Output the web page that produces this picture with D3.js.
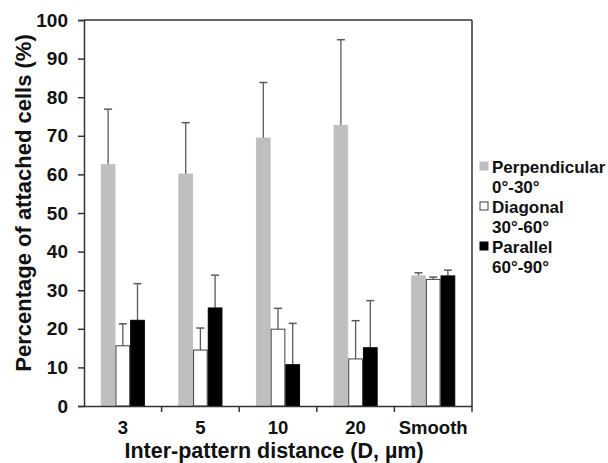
<!DOCTYPE html>
<html>
<head>
<meta charset="utf-8">
<script src="https://cdn.jsdelivr.net/npm/d3@7"></script>
<style>
  body { margin: 0; background: #fff; }
  svg text { font-family: "Liberation Sans", Arial, sans-serif; font-weight: bold; fill: #111; }
</style>
</head>
<body>
<div id="chart"></div>
<script>
// categories and series
var categories = ["3", "5", "10", "20", "Smooth"];
var seriesNames = ["Perpendicular", "Diagonal", "Parallel"];
var seriesSub = ["0°-30°", "30°-60°", "60°-90°"];
var perpendicular = [62.5, 60.1, 69.4, 72.7, 33.7];
var perpendicularErr = [14.4, 13.3, 14.4, 22.2, 0.8];
var diagonal = [15.6, 14.5, 19.9, 12.2, 32.8];
var diagonalErr = [5.7, 5.7, 5.4, 9.9, 0.6];
var parallel = [22.2, 25.4, 10.7, 15.1, 33.7];
var parallelErr = [9.5, 8.5, 10.7, 12.2, 1.5];
var yTicks = [0, 10, 20, 30, 40, 50, 60, 70, 80, 90, 100];

var values = [perpendicular, diagonal, parallel];
var errors = [perpendicularErr, diagonalErr, parallelErr];
var fills = ["#bfbfbf", "#ffffff", "#000000"];
var strokes = ["#bfbfbf", "#404040", "#000000"];

var W = 608, H = 463;
var margin = { top: 20, right: 136, bottom: 57, left: 84 };
var width = W - margin.left - margin.right,
    height = H - margin.top - margin.bottom;

var svg = d3.select("#chart").append("svg")
    .attr("width", W)
    .attr("height", H)
  .append("g")
    .attr("transform", "translate(" + margin.left + "," + margin.top + ")");

var x = d3.scaleBand().domain(categories).range([0, width]);
var y = d3.scaleLinear().domain([0, 100]).range([height, 0]);
var barW = 14.7;

// build flat list of bars
var bars = [];
categories.forEach(function (c, i) {
    for (var s = 0; s < 3; s++) {
        bars.push({ cat: c, s: s, v: values[s][i], e: errors[s][i] });
    }
});
function bx(d) { return x(d.cat) + x.bandwidth() / 2 - 1.5 * barW + d.s * barW; }

// error bars (upper only)
var eg = svg.append("g");
eg.selectAll("line.err")
    .data(bars).enter().append("line")
    .attr("x1", function (d) { return bx(d) + barW / 2; })
    .attr("x2", function (d) { return bx(d) + barW / 2; })
    .attr("y1", function (d) { return y(d.v); })
    .attr("y2", function (d) { return y(d.v + d.e); })
    .style("stroke", "#5a5a5a").style("stroke-width", 1.3);
eg.selectAll("line.cap")
    .data(bars).enter().append("line")
    .attr("x1", function (d) { return bx(d) + barW / 2 - 4; })
    .attr("x2", function (d) { return bx(d) + barW / 2 + 4; })
    .attr("y1", function (d) { return y(d.v + d.e); })
    .attr("y2", function (d) { return y(d.v + d.e); })
    .style("stroke", "#5a5a5a").style("stroke-width", 1.5);

svg.selectAll("rect.bar")
    .data(bars).enter().append("rect")
    .attr("x", function (d) { return bx(d) + 0.5; })
    .attr("y", function (d) { return y(d.v); })
    .attr("width", barW - 1)
    .attr("height", function (d) { return height - y(d.v); })
    .style("fill", function (d) { return fills[d.s]; })
    .style("stroke", function (d) { return strokes[d.s]; })
    .style("stroke-width", 1);

// frame top + right
svg.append("line").attr("x1", 0).attr("x2", width).attr("y1", 0).attr("y2", 0)
    .style("stroke", "#333").style("stroke-width", 1.5);
svg.append("line").attr("x1", width).attr("x2", width).attr("y1", 0).attr("y2", height)
    .style("stroke", "#333").style("stroke-width", 1.5);

// y axis
var y_g = svg.append("g")
    .call(d3.axisLeft(y).tickValues(yTicks).tickSize(6).tickPadding(10));
y_g.selectAll("path, line").style("stroke", "#333").style("stroke-width", 1.5);
y_g.selectAll("text").style("font-size", "19px");

// x axis: ticks at band boundaries
var x_g = svg.append("g")
    .attr("transform", "translate(0," + height + ")")
    .call(d3.axisBottom(x).tickSize(0).tickPadding(15));
x_g.selectAll("path").style("stroke", "#333").style("stroke-width", 1.5);
x_g.selectAll("text").style("font-size", "18.5px");
x_g.selectAll("line.sep")
    .data(categories).enter().append("line")
    .attr("x1", function (d) { return x(d) + x.bandwidth(); })
    .attr("x2", function (d) { return x(d) + x.bandwidth(); })
    .attr("y1", 0).attr("y2", 6)
    .style("stroke", "#333").style("stroke-width", 1.5);

// axis titles
svg.append("text")
    .attr("transform", "rotate(-90)")
    .attr("x", -height / 2 + 10)
    .attr("y", -margin.left + 31)
    .attr("text-anchor", "middle")
    .style("font-size", "22px")
    .text("Percentage of attached cells (%)");
svg.append("text")
    .attr("x", width / 2 - 4)
    .attr("y", height + 52)
    .attr("text-anchor", "middle")
    .style("font-size", "21.5px")
    .text("Inter-pattern distance (D, µm)");

// legend
var lg = svg.append("g").attr("transform", "translate(" + (width + 8) + ",153)");
seriesNames.forEach(function (n, i) {
    var g = lg.append("g").attr("transform", "translate(0," + (i * 40) + ")");
    g.append("rect").attr("x", 0).attr("y", -11).attr("width", 8).attr("height", 8)
        .style("fill", fills[i]).style("stroke", i === 1 ? "#404040" : fills[i]);
    g.append("text").attr("x", 12).attr("y", 0).style("font-size", "17px").text(n);
    g.append("text").attr("x", 12).attr("y", 20).style("font-size", "17px").text(seriesSub[i]);
});
</script>
</body>
</html>
